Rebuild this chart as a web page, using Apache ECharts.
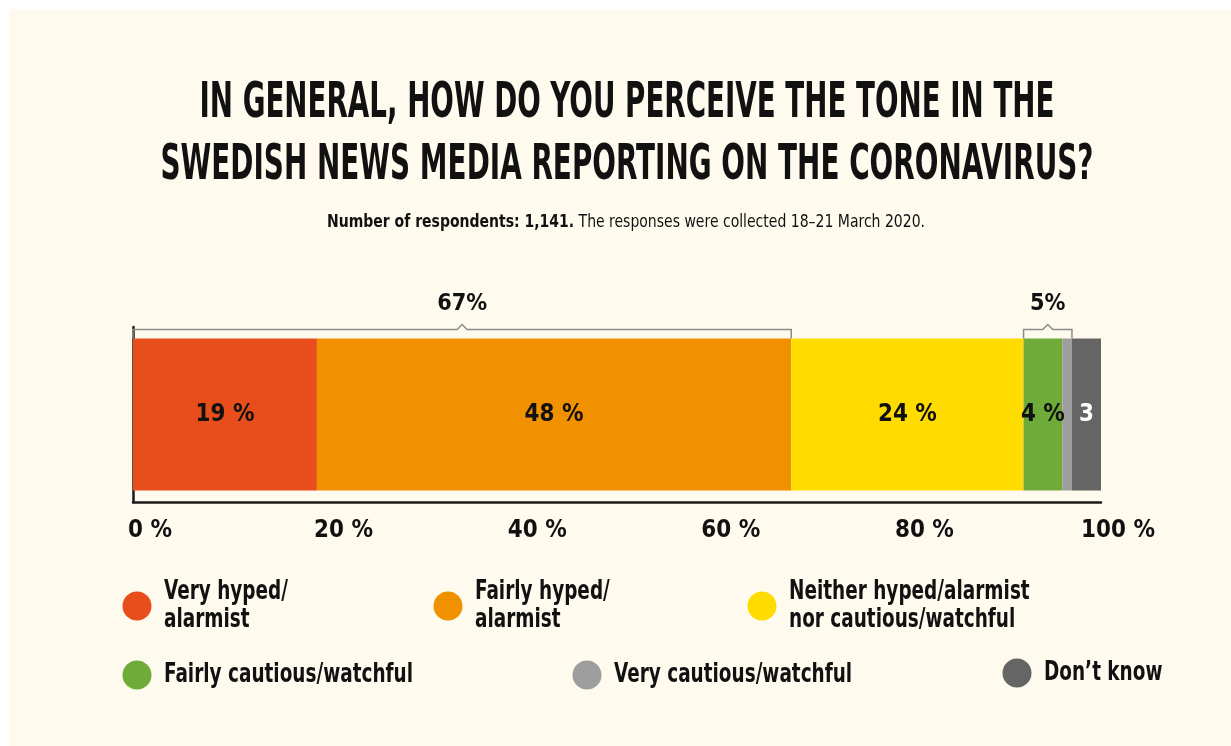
<!DOCTYPE html>
<html>
<head>
<meta charset="utf-8">
<script src="https://cdn.jsdelivr.net/npm/echarts@6/dist/echarts.min.js"></script>
<style>
  html, body { margin: 0; padding: 0; background: #ffffff; }
  #panel { position: absolute; left: 9px; top: 9px; width: 1222px; height: 737px; background: #fefaed; }
  #chart { position: absolute; left: 0; top: 0; width: 1231px; height: 746px; }
</style>
</head>
<body>
<div id="panel"></div>
<div id="chart"></div>
<script>
// ---- data ----
const titleLines = [
  'IN GENERAL, HOW DO YOU PERCEIVE THE TONE IN THE',
  'SWEDISH NEWS MEDIA REPORTING ON THE CORONAVIRUS?'
];
const subtitleBold = 'Number of respondents: 1,141.';
const subtitleRest = ' The responses were collected 18\u201321 March 2020.';
const categories = ['Tone'];
const seriesNames = [
  'Very hyped/\nalarmist',
  'Fairly hyped/\nalarmist',
  'Neither hyped/alarmist\nnor cautious/watchful',
  'Fairly cautious/watchful',
  'Very cautious/watchful',
  'Don\u2019t know'
];
// segment lengths (percent of the full bar)
const seriesValues = [19, 49, 24, 4, 1, 3];
// labels printed inside the segments
const segmentLabels = ['19 %', '48 %', '24 %', '4 %', '', '3'];
const seriesColors = ['#e84e1c', '#f29100', '#ffdc00', '#6fab38', '#9d9d9d', '#656565'];
const labelColors = ['#111', '#111', '#111', '#111', '#111', '#ffffff'];
// brackets: first and last segment index covered, and their labels
const bracketRanges = [[0, 1], [3, 4]];
const bracketLabels = ['67%', '5%'];

// ---- font selection / measuring ----
const ctx = document.createElement('canvas').getContext('2d');
const SAMPLE = 'abcdefghijklmnopqrstuvwxyzABCDEFGHIJ0123456789';
function hasFont(name) {
  ctx.font = 'bold 40px monospace';
  const w0 = ctx.measureText(SAMPLE).width;
  ctx.font = 'bold 40px "' + name + '", monospace';
  return ctx.measureText(SAMPLE).width !== w0;
}
const fontCandidates = ['Noto Sans ExtraCondensed', 'Noto Sans Condensed', 'Liberation Sans Narrow', 'DejaVu Sans Condensed', 'Liberation Sans'];
const chosenFont = fontCandidates.find(hasFont) || 'sans-serif';
const FONT = '"' + chosenFont + '", "DejaVu Sans Condensed", sans-serif';
function textW(txt, size, weight) {
  ctx.font = (weight || 'normal') + ' ' + size + 'px ' + FONT;
  return ctx.measureText(txt).width;
}
function fitSize(txt, target, maxSize) {
  return Math.min(maxSize, 26 * target / textW(txt, 26, 'bold'));
}

const BAR_W = 152;
const cum = [];
seriesValues.reduce((a, v, i) => { cum[i] = a; return a + v; }, 0);
const bracketData = bracketRanges.map(r => [cum[r[0]], cum[r[1]] + seriesValues[r[1]], 0]);

const numSize = fitSize('20 %', 59, 30);
const bracketSize = fitSize('67%', 50, 30);

const legendCenters = [[137, 606], [448, 606], [762, 606], [137, 675], [587, 675], [1017, 673]];
const legendSize = 27;
const legendScale = Math.min(1, 249 / textW('Fairly cautious/watchful', legendSize, 'bold'));

const chart = echarts.init(document.getElementById('chart'), null, { renderer: 'canvas' });

const series = seriesNames.map((name, i) => ({
  name: name,
  type: 'bar',
  stack: 'total',
  barWidth: BAR_W,
  data: [seriesValues[i]],
  itemStyle: { color: seriesColors[i] },
  label: {
    show: segmentLabels[i] !== '',
    position: 'inside',
    formatter: () => segmentLabels[i],
    color: labelColors[i],
    fontFamily: FONT,
    fontWeight: 'bold',
    fontSize: numSize
  },
  emphasis: { disabled: true }
}));

series.push({
  type: 'custom',
  coordinateSystem: 'cartesian2d',
  data: bracketData,
  encode: { x: [0, 1], y: 2 },
  z: 5,
  silent: true,
  renderItem: function (params, api) {
    const p0 = api.coord([api.value(0), 0]);
    const p1 = api.coord([api.value(1), 0]);
    const barTop = p0[1] - BAR_W / 2;
    const y = barTop - 9;
    const mid = (p0[0] + p1[0]) / 2;
    return {
      type: 'group',
      children: [
        {
          type: 'polyline',
          shape: { points: [[p0[0], barTop], [p0[0], y], [mid - 5, y], [mid, y - 5], [mid + 5, y], [p1[0], y], [p1[0], barTop]] },
          style: { stroke: '#8c8c8c', lineWidth: 1.5, fill: null }
        },
        {
          type: 'text',
          x: mid,
          y: y - 14,
          style: {
            text: bracketLabels[params.dataIndex],
            align: 'center',
            verticalAlign: 'bottom',
            fontFamily: FONT,
            fontWeight: 'bold',
            fontSize: bracketSize,
            fill: '#111'
          }
        }
      ]
    };
  }
});

const titleSize = 50;
const t1Scale = 855 / textW(titleLines[0], titleSize, 'bold');
const t2Scale = 933 / textW(titleLines[1], titleSize, 'bold');
const subSize = 17;
const subScale = 598 / (textW(subtitleBold, subSize, 'bold') + textW(subtitleRest, subSize, 'normal'));

const legendGraphics = seriesNames.map((name, i) => ({
  type: 'group',
  children: [
    {
      type: 'circle',
      shape: { cx: legendCenters[i][0], cy: legendCenters[i][1], r: 14.5 },
      style: { fill: seriesColors[i] }
    },
    {
      type: 'text',
      x: legendCenters[i][0] + 27,
      y: legendCenters[i][1],
      scaleX: legendScale,
      style: {
        text: name,
        align: 'left',
        verticalAlign: 'middle',
        fontFamily: FONT,
        fontWeight: 'bold',
        fontSize: legendSize,
        lineHeight: 28,
        fill: '#111'
      }
    }
  ]
}));

const option = {
  backgroundColor: 'transparent',
  animation: false,
  grid: { left: 133, right: 130, top: 327, bottom: 244 },
  xAxis: {
    type: 'value',
    min: 0,
    max: 100,
    interval: 20,
    axisLine: { show: true, lineStyle: { color: '#1a1a1a', width: 2.5 } },
    axisTick: { show: false },
    splitLine: { show: false },
    axisLabel: {
      formatter: v => v + ' %',
      fontFamily: FONT,
      fontWeight: 'bold',
      fontSize: numSize,
      color: '#111',
      margin: 17,
      padding: [0, 0, 0, 34]
    }
  },
  yAxis: {
    type: 'category',
    data: categories,
    axisLine: { show: true, lineStyle: { color: '#1a1a1a', width: 2.5 } },
    axisTick: { show: false },
    axisLabel: { show: false },
    splitLine: { show: false }
  },
  graphic: [
    {
      type: 'text', x: 627, y: 104, scaleX: t1Scale,
      style: { text: titleLines[0], align: 'center', verticalAlign: 'middle', fontFamily: FONT, fontWeight: 'bold', fontSize: titleSize, fill: '#111' }
    },
    {
      type: 'text', x: 627, y: 166, scaleX: t2Scale,
      style: { text: titleLines[1], align: 'center', verticalAlign: 'middle', fontFamily: FONT, fontWeight: 'bold', fontSize: titleSize, fill: '#111' }
    },
    {
      type: 'text', x: 626, y: 223, scaleX: subScale,
      style: {
        text: '{b|' + subtitleBold + '}' + subtitleRest,
        rich: { b: { fontWeight: 'bold', fontFamily: FONT, fontSize: subSize, fill: '#111' } },
        align: 'center', verticalAlign: 'middle', fontFamily: FONT, fontSize: subSize, fill: '#111'
      }
    }
  ].concat(legendGraphics),
  series: series
};

chart.setOption(option);
</script>
</body>
</html>
